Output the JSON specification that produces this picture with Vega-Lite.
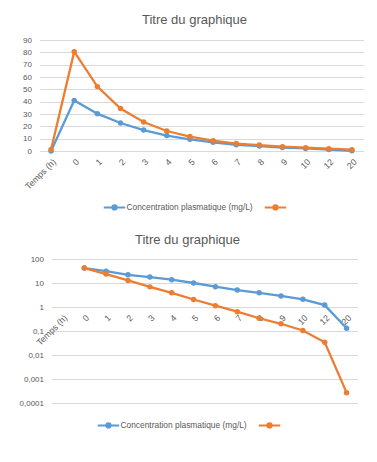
{
  "$schema": "https://vega.github.io/schema/vega-lite/v6.json",
  "background": "white",
  "padding": {"left": 18.5, "top": 14, "right": 5, "bottom": 5},
  "spacing": 20,
  "align": {"row": "none", "column": "all"},
  "bounds": "full",
  "config": {
    "view": {"stroke": null},
    "font": "Liberation Sans",
    "title": {"fontSize": 13, "fontWeight": "normal", "color": "#595959", "font": "Liberation Sans"},
    "axis": {"labelColor": "#595959", "labelFontSize": 8, "labelFont": "Liberation Sans", "gridColor": "#d9d9d9", "gridWidth": 1, "domain": false, "ticks": false},
    "legend": {"labelColor": "#595959", "labelFont": "Liberation Sans", "labelFontSize": 8.4, "padding": 0}
  },
  "datasets": {
    "lin": [
      {"t": "Temps (h)", "i": 0, "s": "Concentration plasmatique (mg/L)", "v": 0},
      {"t": "0", "i": 1, "s": "Concentration plasmatique (mg/L)", "v": 41},
      {"t": "1", "i": 2, "s": "Concentration plasmatique (mg/L)", "v": 30.3},
      {"t": "2", "i": 3, "s": "Concentration plasmatique (mg/L)", "v": 22.7},
      {"t": "3", "i": 4, "s": "Concentration plasmatique (mg/L)", "v": 17},
      {"t": "4", "i": 5, "s": "Concentration plasmatique (mg/L)", "v": 12.5},
      {"t": "5", "i": 6, "s": "Concentration plasmatique (mg/L)", "v": 9.5},
      {"t": "6", "i": 7, "s": "Concentration plasmatique (mg/L)", "v": 7},
      {"t": "7", "i": 8, "s": "Concentration plasmatique (mg/L)", "v": 5},
      {"t": "8", "i": 9, "s": "Concentration plasmatique (mg/L)", "v": 4},
      {"t": "9", "i": 10, "s": "Concentration plasmatique (mg/L)", "v": 2.8},
      {"t": "10", "i": 11, "s": "Concentration plasmatique (mg/L)", "v": 2.1},
      {"t": "12", "i": 12, "s": "Concentration plasmatique (mg/L)", "v": 1.2},
      {"t": "20", "i": 13, "s": "Concentration plasmatique (mg/L)", "v": 0.13},
      {"t": "Temps (h)", "i": 0, "s": " ", "v": 1.2},
      {"t": "0", "i": 1, "s": " ", "v": 80.5},
      {"t": "1", "i": 2, "s": " ", "v": 52.2},
      {"t": "2", "i": 3, "s": " ", "v": 34.4},
      {"t": "3", "i": 4, "s": " ", "v": 23.5},
      {"t": "4", "i": 5, "s": " ", "v": 16.2},
      {"t": "5", "i": 6, "s": " ", "v": 11.7},
      {"t": "6", "i": 7, "s": " ", "v": 8.4},
      {"t": "7", "i": 8, "s": " ", "v": 6},
      {"t": "8", "i": 9, "s": " ", "v": 4.8},
      {"t": "9", "i": 10, "s": " ", "v": 3.5},
      {"t": "10", "i": 11, "s": " ", "v": 2.7},
      {"t": "12", "i": 12, "s": " ", "v": 1.9},
      {"t": "20", "i": 13, "s": " ", "v": 1.1}
    ],
    "log": [
      {"t": "0", "i": 1, "s": "Concentration plasmatique (mg/L)", "v": 42},
      {"t": "1", "i": 2, "s": "Concentration plasmatique (mg/L)", "v": 31},
      {"t": "2", "i": 3, "s": "Concentration plasmatique (mg/L)", "v": 22},
      {"t": "3", "i": 4, "s": "Concentration plasmatique (mg/L)", "v": 17.7},
      {"t": "4", "i": 5, "s": "Concentration plasmatique (mg/L)", "v": 13.7},
      {"t": "5", "i": 6, "s": "Concentration plasmatique (mg/L)", "v": 10},
      {"t": "6", "i": 7, "s": "Concentration plasmatique (mg/L)", "v": 7},
      {"t": "7", "i": 8, "s": "Concentration plasmatique (mg/L)", "v": 5.1},
      {"t": "8", "i": 9, "s": "Concentration plasmatique (mg/L)", "v": 3.9},
      {"t": "9", "i": 10, "s": "Concentration plasmatique (mg/L)", "v": 2.9},
      {"t": "10", "i": 11, "s": "Concentration plasmatique (mg/L)", "v": 2.1},
      {"t": "12", "i": 12, "s": "Concentration plasmatique (mg/L)", "v": 1.2},
      {"t": "20", "i": 13, "s": "Concentration plasmatique (mg/L)", "v": 0.13},
      {"t": "0", "i": 1, "s": " ", "v": 42},
      {"t": "1", "i": 2, "s": " ", "v": 23.5},
      {"t": "2", "i": 3, "s": " ", "v": 12.8},
      {"t": "3", "i": 4, "s": " ", "v": 6.9},
      {"t": "4", "i": 5, "s": " ", "v": 3.9},
      {"t": "5", "i": 6, "s": " ", "v": 2.05},
      {"t": "6", "i": 7, "s": " ", "v": 1.13},
      {"t": "7", "i": 8, "s": " ", "v": 0.64},
      {"t": "8", "i": 9, "s": " ", "v": 0.34},
      {"t": "9", "i": 10, "s": " ", "v": 0.2},
      {"t": "10", "i": 11, "s": " ", "v": 0.105},
      {"t": "12", "i": 12, "s": " ", "v": 0.034},
      {"t": "20", "i": 13, "s": " ", "v": 0.00027}
    ]
  },
  "resolve": {"scale": {"color": "independent", "x": "independent", "y": "independent"}, "legend": {"color": "independent"}},
  "vconcat": [
    {
      "width": 324,
      "height": 111,
      "title": {"text": "Titre du graphique", "dx": -7, "offset": 9},
      "data": {"name": "lin"},
      "encoding": {
        "x": {"field": "t", "type": "ordinal", "scale": {"domain": ["Temps (h)", "0", "1", "2", "3", "4", "5", "6", "7", "8", "9", "10", "12", "20"]}, "axis": {"title": null, "labelAngle": -45, "labelPadding": 6, "labelFontSize": 8.8, "grid": false}},
        "y": {"field": "v", "type": "quantitative", "scale": {"domain": [0, 90]}, "axis": {"title": null, "values": [0, 10, 20, 30, 40, 50, 60, 70, 80, 90], "labelPadding": 8}},
        "order": {"field": "i"},
        "color": {"field": "s", "type": "nominal", "scale": {"domain": ["Concentration plasmatique (mg/L)", " "], "range": ["#5B9BD5", "#ED7D31"]},
          "legend": {"orient": "none", "legendX": 63, "legendY": 155, "direction": "horizontal", "title": null, "symbolType": "M-1,0H1M-0.2,0A0.2,0.2,0,1,0,0.2,0A0.2,0.2,0,1,0,-0.2,0Z", "symbolSize": 460, "symbolStrokeWidth": 2, "labelOffset": 0, "columnPadding": 7}}
      },
      "layer": [
        {"mark": {"type": "line", "strokeWidth": 2.3}},
        {"mark": {"type": "point", "filled": true, "size": 30, "opacity": 1}}
      ]
    },
    {
      "width": 318,
      "height": 144,
      "title": {"text": "Titre du graphique", "dx": -11, "offset": 8},
      "data": {"name": "log"},
      "encoding": {
        "x": {"field": "t", "type": "ordinal", "scale": {"domain": ["Temps (h)", "0", "1", "2", "3", "4", "5", "6", "7", "8", "9", "10", "12", "20"], "range": [12, 318]}, "axis": {"title": null, "labelAngle": -45, "labelPadding": 6, "labelFontSize": 8.8, "grid": false, "offset": -96}},
        "y": {"field": "v", "type": "quantitative", "scale": {"type": "log", "domain": [0.0001, 100]}, "axis": {"title": null, "offset": -12, "values": [0.0001, 0.001, 0.01, 0.1, 1, 10, 100], "labelExpr": "replace(toString(datum.value), '.', ',')", "labelPadding": 8}},
        "order": {"field": "i"},
        "color": {"field": "s", "type": "nominal", "scale": {"domain": ["Concentration plasmatique (mg/L)", " "], "range": ["#5B9BD5", "#ED7D31"]},
          "legend": {"orient": "none", "legendX": 57, "legendY": 154, "direction": "horizontal", "title": null, "symbolType": "M-1,0H1M-0.2,0A0.2,0.2,0,1,0,0.2,0A0.2,0.2,0,1,0,-0.2,0Z", "symbolSize": 460, "symbolStrokeWidth": 2, "labelOffset": 0, "columnPadding": 7}}
      },
      "layer": [
        {"mark": {"type": "line", "strokeWidth": 2.3}},
        {"mark": {"type": "point", "filled": true, "size": 30, "opacity": 1}}
      ]
    }
  ]
}
